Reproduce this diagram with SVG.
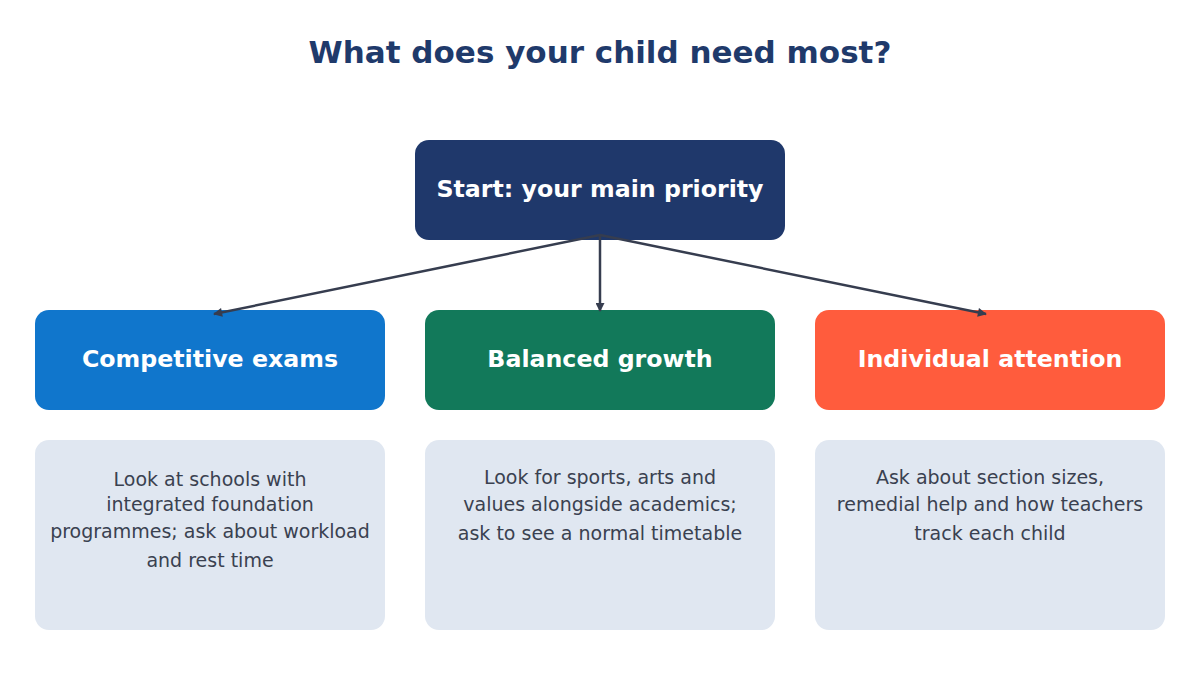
<svg xmlns="http://www.w3.org/2000/svg" width="1200" height="675" viewBox="0 0 1200 675">
<style>
.title{font-family:"DejaVu Sans",sans-serif;font-weight:bold;font-size:31px;fill:#1f3a6b;text-anchor:middle}
.nt{font-family:"DejaVu Sans",sans-serif;font-weight:bold;font-size:23.7px;fill:#ffffff;text-anchor:middle}
.ct{font-family:"DejaVu Sans",sans-serif;font-size:19px;fill:#3a4150;text-anchor:middle}
.conn{stroke:#363d4f;stroke-width:2.5;fill:none}
</style>
<defs>
<marker id="ah" viewBox="0 0 10 10" refX="9" refY="5" markerWidth="4" markerHeight="3.6" orient="auto" markerUnits="strokeWidth">
<path d="M0,0 L10,5 L0,10 z" fill="#363d4f"/>
</marker>
</defs>
<rect width="1200" height="675" fill="#ffffff"/>
<text class="title" x="600" y="63">What does your child need most?</text>
<g id="start">
<rect x="415" y="140" width="370" height="100" rx="14" fill="#1f386b"/>
<text class="nt" x="600" y="197">Start: your main priority</text>
</g>
<g id="competitive">
<rect x="35" y="310" width="350" height="100" rx="14" fill="#1076cc"/>
<text class="nt" x="210" y="367">Competitive exams</text>
</g>
<g id="balanced">
<rect x="425" y="310" width="350" height="100" rx="14" fill="#12795a"/>
<text class="nt" x="600" y="367">Balanced growth</text>
</g>
<g id="individual">
<rect x="815" y="310" width="350" height="100" rx="14" fill="#ff5c3d"/>
<text class="nt" x="990" y="367">Individual attention</text>
</g>
<g id="card-competitive">
<rect x="35" y="440" width="350" height="190" rx="14" fill="#e0e7f1"/>
<text class="ct" x="210" y="486">Look at schools with</text>
<text class="ct" x="210" y="511">integrated foundation</text>
<text class="ct" x="210" y="538">programmes; ask about workload</text>
<text class="ct" x="210" y="567">and rest time</text>
</g>
<g id="card-balanced">
<rect x="425" y="440" width="350" height="190" rx="14" fill="#e0e7f1"/>
<text class="ct" x="600" y="484">Look for sports, arts and</text>
<text class="ct" x="600" y="511">values alongside academics;</text>
<text class="ct" x="600" y="540">ask to see a normal timetable</text>
</g>
<g id="card-individual">
<rect x="815" y="440" width="350" height="190" rx="14" fill="#e0e7f1"/>
<text class="ct" x="990" y="484">Ask about section sizes,</text>
<text class="ct" x="990" y="511">remedial help and how teachers</text>
<text class="ct" x="990" y="540">track each child</text>
</g>
<g id="connectors">
<line class="conn" x1="600" y1="235" x2="214" y2="314" marker-end="url(#ah)"/>
<line class="conn" x1="600" y1="235" x2="600" y2="311" marker-end="url(#ah)"/>
<line class="conn" x1="600" y1="235" x2="986" y2="314" marker-end="url(#ah)"/>
</g>
</svg>
